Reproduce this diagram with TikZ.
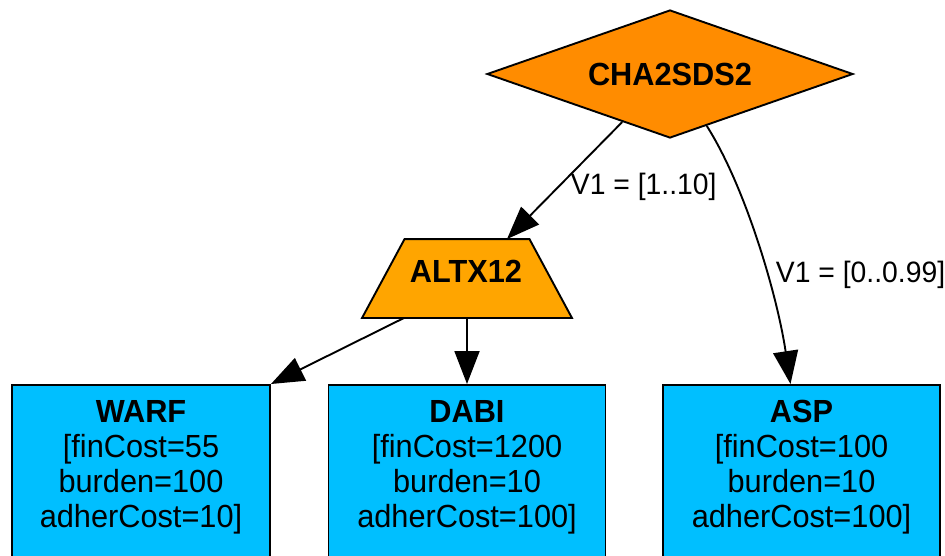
\documentclass[tikz,border=0pt]{standalone}
\usepackage{fontspec}
\setmainfont{Liberation Sans}[FakeStretch=0.96]
\usetikzlibrary{shapes.geometric,arrows.meta,calc}
\definecolor{decorange}{HTML}{FF8C00}
\definecolor{altorange}{HTML}{FFA500}
\definecolor{leafblue}{HTML}{00BFFF}
\begin{document}
\begin{tikzpicture}[x=1pt,y=-1pt,line width=1.9pt,
  decision/.style={diamond,aspect=2.86,draw=black,fill=decorange,minimum width=366pt,
    minimum height=128pt,inner sep=0pt,font=\fontsize{32}{35}\selectfont\bfseries},
  chooser/.style={rectangle,minimum width=208pt,minimum height=77pt,inner sep=0pt},
  chooserlabel/.style={inner sep=0pt,font=\fontsize{32}{35}\selectfont\bfseries},
  leaf/.style={rectangle,draw=black,fill=leafblue,minimum height=216pt,
    inner sep=0pt,anchor=north},
  leaftext/.style={align=center,inner sep=0pt,font=\fontsize{32}{35}\selectfont},
  edgelabel/.style={anchor=west,inner sep=0pt,font=\fontsize{29.5}{32}\selectfont},
  link/.style={-{Triangle[length=33pt,width=25pt]},line width=1.9pt,draw=black}]
\useasboundingbox (0,0) rectangle (945,555);
\clip (0,0) rectangle (945,555);

% decision node
\node[decision] (cha) at (670,74) {CHA2SDS2};

% chooser node: a trapezium drawn on the frame of the node
\node[chooser] (alt) at (467,278.5) {};
\filldraw[fill=altorange,draw=black,line join=miter]
  (alt.south west) -- ([xshift=42.5pt]alt.north west)
  -- ([xshift=-42.5pt]alt.north east) -- (alt.south east) -- cycle;
\node[chooserlabel] (alttext) at (466,271) {ALTX12};

% leaf boxes (their lower edges run past the bottom border)
\node[leaf,minimum width=258pt] (warf) at (141,384) {};
\node[leaf,minimum width=277pt] (dabi) at (467,384) {};
\node[leaf,minimum width=277pt] (asp) at (801.5,384) {};

\node[leaftext] (warftext) at (141,467.5) {\textbf{WARF}\\{[}finCost=55\\burden=100\\adherCost=10]};
\node[leaftext] (dabitext) at (467,467.5) {\textbf{DABI}\\{[}finCost=1200\\burden=10\\adherCost=100]};
\node[leaftext] (asptext) at (801.5,467.5) {\textbf{ASP}\\{[}finCost=100\\burden=10\\adherCost=100]};

% connectors
\draw[link] ($(cha.west)!0.74!(cha.south)$) -- ([xshift=40pt]alt.north);
\draw[link] ($(cha.south)!0.2!(cha.east)$) .. controls (745,186) and (777,294) .. ([xshift=-11pt]asp.north);
\draw[link] ([xshift=-63pt]alt.south) -- (warf.north east);
\draw[link] (alt.south) -- (dabi.north);

% edge labels
\node[edgelabel] (lab1) at (570,187) {V1 = [1..10]};
\node[edgelabel] (lab2) at (775,275) {V1 = [0..0.99]};
\end{tikzpicture}
\end{document}
